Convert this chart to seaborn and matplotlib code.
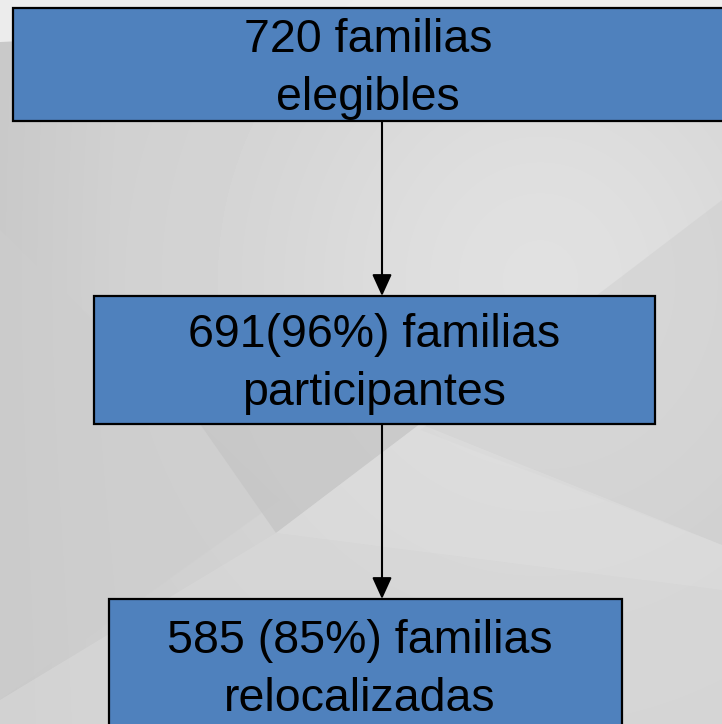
import numpy as np
import seaborn as sns
import matplotlib.pyplot as plt
from matplotlib.patches import Rectangle, Polygon

sns.set_theme(style="white")
plt.rcParams['font.family'] = ['Liberation Sans', 'DejaVu Sans']

# flow chart content
labels = ["720 familias\nelegibles",
          "691(96%) familias\nparticipantes",
          "585 (85%) familias\nrelocalizadas"]

# box geometry in pixel units
box_x0 = [13, 94, 109]
box_x1 = [728, 655, 622]
box_y0 = [8, 296, 599]
box_y1 = [121, 424, 740]
text_x = [368, 374, 360]
text_y = [69, 364, 670]
arrow_x = 382

W, H = 722, 724
fig = plt.figure(figsize=(7.22, 7.24), dpi=100)
ax = fig.add_axes([0, 0, 1, 1])
ax.set_xlim(0, W)
ax.set_ylim(H, 0)
ax.axis("off")

# soft gray backdrop
yy, xx = np.mgrid[0:H, 0:W]
bg = 0.81 + 0.07 * np.exp(-(((xx - 540) / 300.0) ** 2 + ((yy - 280) / 320.0) ** 2))
bg -= 0.025 * np.clip((120 - xx) / 120.0, 0, 1)
ax.imshow(bg, cmap="gray", vmin=0, vmax=1, extent=(0, W, H, 0), zorder=0,
          aspect="auto", interpolation="bilinear")

shapes = [
    ([(0, 0), (W, 0), (W, 8), (0, 42)], "#f1f1f1", 0.9),
    ([(0, 230), (280, 500), (0, 700)], "#cdcdcd", 0.5),
    ([(200, 424), (420, 424), (276, 533)], "#c4c4c4", 0.7),
    ([(W, 200), (420, 430), (W, 545)], "#cdcdcd", 0.45),
    ([(0, 700), (276, 533), (W, 590), (W, H), (0, H)], "#d9d9d9", 0.6),
    ([(276, 533), (420, 424), (W, 545), (W, 590)], "#dedede", 0.6),
]
for pts, col, a in shapes:
    ax.add_patch(Polygon(pts, closed=True, facecolor=col, edgecolor="none", alpha=a, zorder=1))

for x0, x1, y0, y1 in zip(box_x0, box_x1, box_y0, box_y1):
    ax.add_patch(Rectangle((x0, y0), x1 - x0, y1 - y0, facecolor="#4F81BD",
                           edgecolor="black", linewidth=1.6, zorder=3))

for lab, tx, ty in zip(labels, text_x, text_y):
    ax.text(tx, ty, lab, ha="center", va="center", fontsize=33.5,
            color="black", linespacing=1.44, zorder=4)

for i in range(len(labels) - 1):
    ax.annotate("", xy=(arrow_x, box_y0[i + 1]), xytext=(arrow_x, box_y1[i]),
                arrowprops=dict(arrowstyle="-|>,head_length=1.1,head_width=0.5",
                                color="black", lw=1.5, shrinkA=0, shrinkB=0),
                zorder=2)

fig.savefig("out.png", dpi=100)
